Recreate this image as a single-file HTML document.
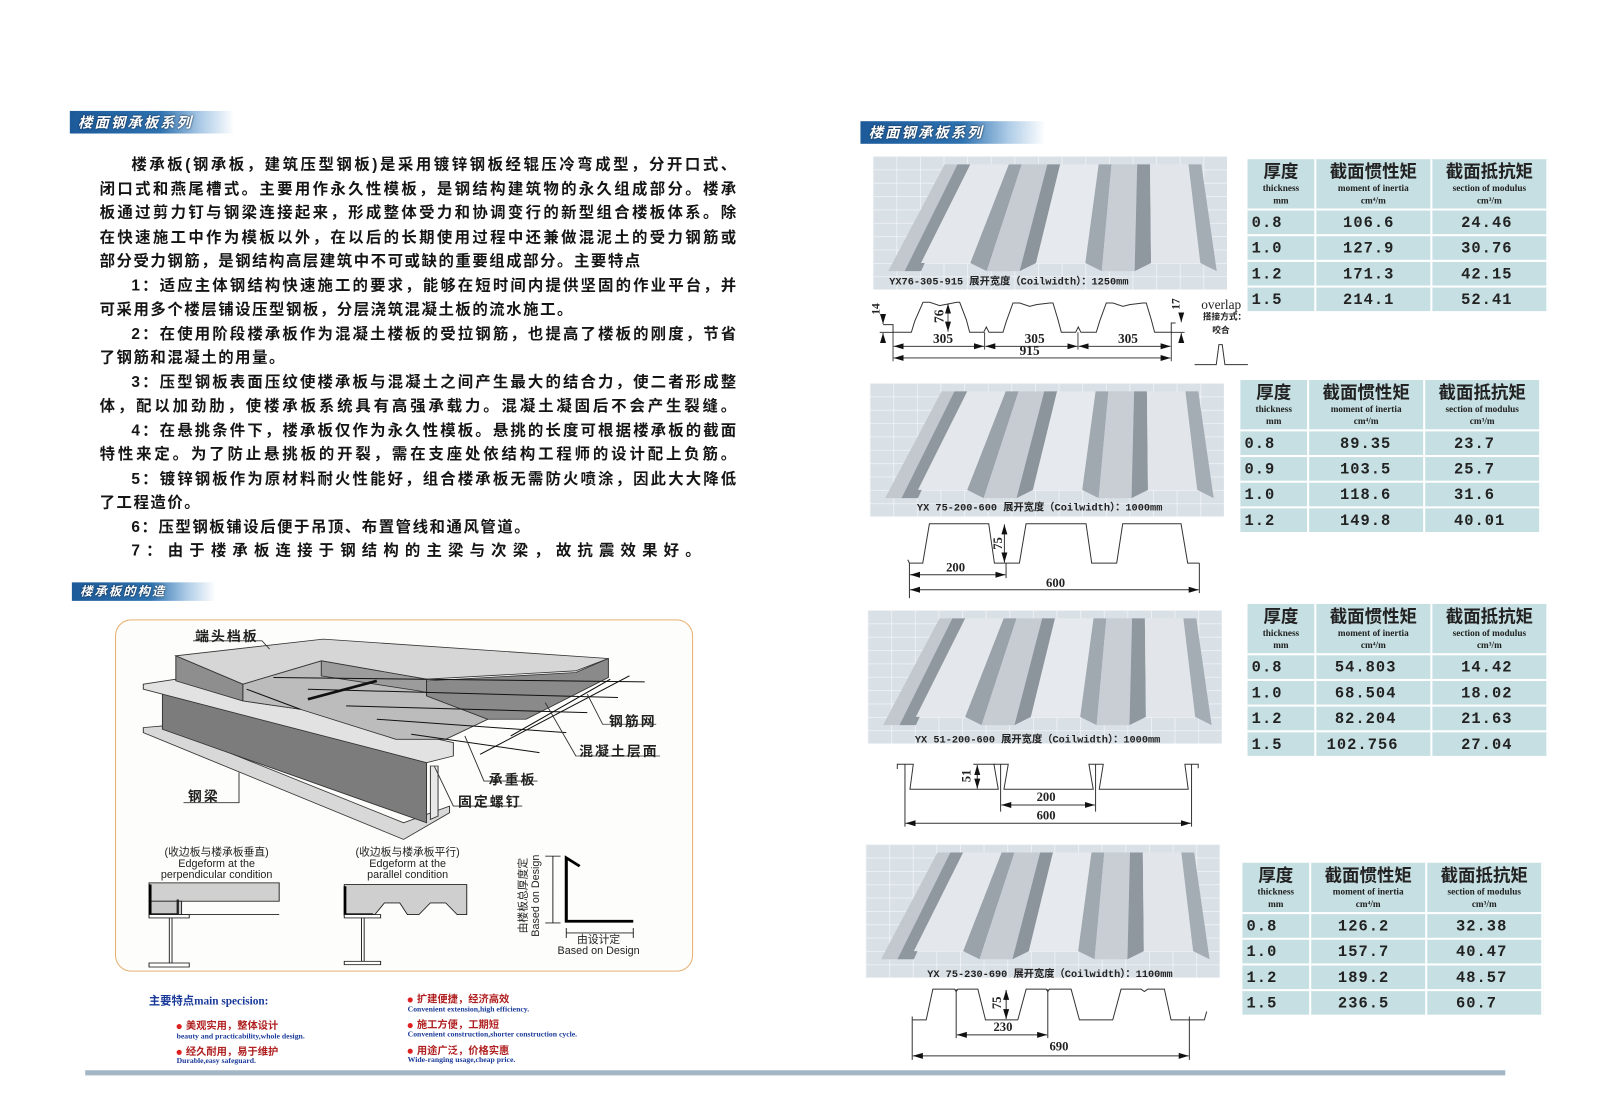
<!DOCTYPE html>
<html><head><meta charset="utf-8">
<style>
html,body{margin:0;padding:0;background:#fff;overflow:hidden;width:1610px;height:1099px}
#c{position:absolute;left:0;top:0;width:1568px;height:1070px;transform-origin:0 0;transform:scale(1.0268,1.0271);font-family:"Liberation Sans","Noto Sans CJK SC",sans-serif}
.a{position:absolute;white-space:nowrap}
.bar{position:absolute;height:22px;background:linear-gradient(90deg,#1c5a9a 0%,#2e72b0 55%,rgba(120,170,215,0.6) 80%,rgba(255,255,255,0) 100%);color:#fff;font-weight:bold;font-style:italic;font-size:14px;line-height:22px;padding-left:8px;letter-spacing:2px;box-sizing:border-box;text-shadow:0 0 2px #123}
.p{position:absolute;left:97px;width:620px;font-size:15px;font-weight:bold;color:#151515;line-height:23.5px;height:23.5px;white-space:nowrap;overflow:visible}
.ls{letter-spacing:1.5px}
.j{text-align:justify;text-align-last:justify;white-space:normal}
.in{padding-left:31px;box-sizing:border-box}
.tb{position:absolute;width:293px;height:148px;background:#c6dfe2}
.tb div{position:absolute;box-sizing:border-box}
.hd{top:0;height:50px;text-align:center;color:#222;border-right:2px solid #fff;border-bottom:2px solid #fff}
.hd b{display:block;font-size:17px;line-height:20px;margin-top:3px;font-family:"Liberation Sans","Noto Sans CJK SC",sans-serif}
.hd i{display:block;font-style:normal;font-size:9px;line-height:10px;font-family:"Liberation Serif",serif;font-weight:bold}
.hd s{display:block;text-decoration:none;font-size:9px;line-height:14px;font-family:"Liberation Serif",serif;font-weight:bold}
.c{height:25px;line-height:25px;font-family:"Liberation Mono",monospace;font-weight:bold;font-size:15px;color:#222;border-right:2px solid #fff;border-bottom:2px solid #fff;letter-spacing:1px}
.lb{position:absolute;font-size:13.5px;font-weight:bold;color:#222;white-space:nowrap;letter-spacing:2px}
.sm{position:absolute;font-size:10.5px;color:#222;white-space:nowrap;text-align:center;line-height:11px}
.cap{position:absolute;font-size:10px;font-weight:bold;color:#222;white-space:nowrap;font-family:"Liberation Mono","Noto Sans CJK SC",monospace}
.ph{position:absolute;width:345px;height:130px}
.f1{position:absolute;font-size:10px;font-weight:bold;color:#b02020;white-space:nowrap}
.f2{position:absolute;font-size:7.5px;font-weight:bold;color:#1a3a9a;white-space:nowrap;font-family:"Liberation Serif",serif}
.dot{display:inline-block;width:5px;height:5px;border-radius:50%;background:#e02020;margin-right:4px;vertical-align:middle}
</style></head><body><div id="c">

<div class="bar" style="left:68px;top:108px;width:160px">楼面钢承板系列</div>

<div class="p j in" style="top:149px">楼承板(钢承板，建筑压型钢板)是采用镀锌钢板经辊压冷弯成型，分开口式、</div>
<div class="p j" style="top:172.5px">闭口式和燕尾槽式。主要用作永久性模板，是钢结构建筑物的永久组成部分。楼承</div>
<div class="p j" style="top:196px">板通过剪力钉与钢梁连接起来，形成整体受力和协调变行的新型组合楼板体系。除</div>
<div class="p j" style="top:219.5px">在快速施工中作为模板以外，在以后的长期使用过程中还兼做混泥土的受力钢筋或</div>
<div class="p ls" style="top:243px">部分受力钢筋，是钢结构高层建筑中不可或缺的重要组成部分。主要特点</div>
<div class="p j in" style="top:266.5px">1：适应主体钢结构快速施工的要求，能够在短时间内提供坚固的作业平台，并</div>
<div class="p ls" style="top:290px">可采用多个楼层铺设压型钢板，分层浇筑混凝土板的流水施工。</div>
<div class="p j in" style="top:313.5px">2：在使用阶段楼承板作为混凝土楼板的受拉钢筋，也提高了楼板的刚度，节省</div>
<div class="p ls" style="top:337px">了钢筋和混凝土的用量。</div>
<div class="p j in" style="top:360.5px">3：压型钢板表面压纹使楼承板与混凝土之间产生最大的结合力，使二者形成整</div>
<div class="p j" style="top:384px">体，配以加劲肋，使楼承板系统具有高强承载力。混凝土凝固后不会产生裂缝。</div>
<div class="p j in" style="top:407.5px">4：在悬挑条件下，楼承板仅作为永久性模板。悬挑的长度可根据楼承板的截面</div>
<div class="p j" style="top:431px">特性来定。为了防止悬挑板的开裂，需在支座处依结构工程师的设计配上负筋。</div>
<div class="p j in" style="top:454.5px">5：镀锌钢板作为原材料耐火性能好，组合楼承板无需防火喷涂，因此大大降低</div>
<div class="p ls" style="top:478px">了工程造价。</div>
<div class="p in ls" style="top:501.5px">6：压型钢板铺设后便于吊顶、布置管线和通风管道。</div>
<div class="p in" style="top:525px;letter-spacing:6px">7：由于楼承板连接于钢结构的主梁与次梁，故抗震效果好。</div>

<div class="bar" style="left:70px;top:567px;width:140px;height:18px;line-height:18px;font-size:12px">楼承板的构造</div>

<div style="position:absolute;left:112px;top:603px;width:561px;height:341px;border:1.5px solid #e6b070;border-radius:16px;background:#fdfdfb"></div>
<svg style="position:absolute;left:106.4px;top:593.2px" width="578.6" height="357.6" viewBox="0 0 1552 1100" preserveAspectRatio="none">
<g stroke="#333" stroke-width="2.5">
<polygon points="90,355 140,350 770,640 890,590 890,610 770,690 90,370" fill="#d8d8d8"/>
<polygon points="140,245 830,460 830,640 140,360" fill="#7c7c7c"/>
<polygon points="840,470 860,470 860,620 840,630" fill="#e8e8e8"/>
<polygon points="90,225 175,210 350,275 500,300 900,400 900,440 830,460 90,240" fill="#e2e2e2"/>
<polygon points="350,225 555,155 830,215 830,260 990,330 880,390 750,390 500,300 350,275" fill="#bcbcbc"/>
<polygon points="175,140 560,90 1305,148 1220,185 830,210 555,155 350,225" fill="#d6d6d6"/>
<polygon points="175,140 350,225 350,275 175,215" fill="#8e8e8e"/>
<polygon points="555,155 830,210 830,250 810,245 555,200" fill="#9c9c9c"/>
<polygon points="830,215 1220,190 1305,148 1305,205 1090,330 990,330 830,260" fill="#8a8a8a"/>
</g>
<g stroke="#111" stroke-width="3">
<line x1="360" y1="240" x2="500" y2="300"/><line x1="430" y1="205" x2="1400" y2="218"/>
<line x1="520" y1="240" x2="1330" y2="265"/><line x1="620" y1="290" x2="1250" y2="310"/>
<line x1="700" y1="330" x2="1195" y2="370"/><line x1="790" y1="375" x2="1125" y2="430"/>
<line x1="970" y1="435" x2="1360" y2="200"/><line x1="1050" y1="380" x2="1310" y2="210"/>
<line x1="520" y1="270" x2="700" y2="215" stroke-width="8"/>
</g>
<g stroke="#333" stroke-width="2.5" fill="none">
<polyline points="220,95 400,95 420,120"/>
<polyline points="1430,345 1290,345 1250,255"/>
<polyline points="1440,440 1220,440 1140,280"/>
<polyline points="1120,515 980,515 930,380"/>
<polyline points="1080,590 900,590 850,470"/>
<polyline points="195,580 340,580 340,490"/>
</g>
<g stroke="#222" stroke-width="2.5">
<rect x="105" y="820" width="340" height="55" fill="#d0d0d0"/>
<rect x="105" y="875" width="85" height="40" fill="#c8c8c8"/>
<line x1="190" y1="915" x2="445" y2="915"/>
<polyline points="108,825 108,915 180,915" fill="none" stroke="#000" stroke-width="7"/>
<line x1="180" y1="870" x2="180" y2="915" stroke-width="6"/>
<rect x="105" y="915" width="105" height="10" fill="#fff"/>
<rect x="158" y="925" width="7" height="135" fill="#fff"/>
<rect x="105" y="1060" width="105" height="12" fill="#fff"/>
<polygon points="615,825 935,825 935,915 910,915 880,880 840,880 810,915 780,915 760,880 720,880 695,915 615,915" fill="#cfcfcf"/>
<polyline points="617,830 617,915 690,915" fill="none" stroke="#000" stroke-width="7"/>
<rect x="615" y="915" width="95" height="10" fill="#fff"/>
<rect x="660" y="925" width="7" height="130" fill="#fff"/>
<rect x="615" y="1055" width="95" height="10" fill="#fff"/>
<polyline points="1230,770 1195,745 1195,935 1370,935" fill="none" stroke="#000" stroke-width="8"/>
<line x1="1160" y1="740" x2="1160" y2="940"/><line x1="1140" y1="740" x2="1180" y2="740"/><line x1="1140" y1="940" x2="1180" y2="940"/>
<line x1="1195" y1="970" x2="1370" y2="970"/><line x1="1195" y1="955" x2="1195" y2="985"/><line x1="1370" y1="955" x2="1370" y2="985"/>
</g>
</svg>
<div class="lb" style="left:190px;top:608px">端头档板</div>
<div class="lb" style="left:593px;top:691px">钢筋网</div>
<div class="lb" style="left:564px;top:720px">混凝土层面</div>
<div class="lb" style="left:476px;top:748px">承重板</div>
<div class="lb" style="left:446px;top:769px">固定螺钉</div>
<div class="lb" style="left:183px;top:764px">钢梁</div>
<div class="sm" style="left:131px;top:825px;width:160px">(收边板与楼承板垂直)<br>Edgeform at the<br>perpendicular condition</div>
<div class="sm" style="left:317px;top:825px;width:160px">(收边板与楼承板平行)<br>Edgeform at the<br>parallel condition</div>
<div class="sm" style="left:466px;top:860px;width:100px;transform:rotate(-90deg);line-height:12px">由楼板总厚度定<br>Based on Design</div>
<div class="sm" style="left:533px;top:910px;width:100px">由设计定<br>Based on Design</div>

<div class="a" style="left:145px;top:966px;font-size:11px;font-weight:bold;color:#1a3a9a">主要特点<span style="font-family:'Liberation Serif',serif">main specision:</span></div>
<div class="f1" style="left:172px;top:990px"><span class="dot"></span>美观实用，整体设计</div>
<div class="f2" style="left:172px;top:1004px">beauty and practicability,whole design.</div>
<div class="f1" style="left:172px;top:1015px"><span class="dot"></span>经久耐用，易于维护</div>
<div class="f2" style="left:172px;top:1028px">Durable,easy safeguard.</div>
<div class="f1" style="left:397px;top:964px"><span class="dot"></span>扩建便捷，经济高效</div>
<div class="f2" style="left:397px;top:978px">Convenient extension,high efficiency.</div>
<div class="f1" style="left:397px;top:989px"><span class="dot"></span>施工方便，工期短</div>
<div class="f2" style="left:397px;top:1002px">Convenient construction,shorter construction cycle.</div>
<div class="f1" style="left:397px;top:1014px"><span class="dot"></span>用途广泛，价格实惠</div>
<div class="f2" style="left:397px;top:1027px">Wide-ranging usage,cheap price.</div>
<div class="a" style="left:83px;top:1042px;width:1383px;height:5px;background:#a3b6c6"></div>

<div class="bar" style="left:838px;top:118px;width:180px">楼面钢承板系列</div>

<svg width="0" height="0" style="position:absolute">
<defs>
<pattern id="gr" width="23" height="13" patternUnits="userSpaceOnUse"><rect width="23" height="13" fill="#d9e0e6"/><path d="M0 0H23M0 0V13" stroke="#f2f5f7" stroke-width="1.5"/></pattern>
<g id="deck">
<polygon points="70,8 82.5,8 31,112 15,112" fill="#c2c8ce"/>
<polygon points="82.5,8 95,8 47,112 31,112" fill="#8f979f"/>
<polygon points="95,8 132.5,8 95,104 47,104" fill="#e4e8ec"/>
<polygon points="132.5,8 145,8 111,112 95,104" fill="#9aa2aa"/>
<polygon points="145,8 170,8 143,112 111,112" fill="#c6ccd2"/>
<polygon points="170,8 182.5,8 159,104 143,112" fill="#8c949c"/>
<polygon points="182.5,8 220,8 207,104 159,104" fill="#e6eaee"/>
<polygon points="220,8 232.5,8 223,112 207,104" fill="#a0a8b0"/>
<polygon points="232.5,8 257.5,8 255,112 223,112" fill="#c8ced4"/>
<polygon points="257.5,8 270,8 271,104 255,112" fill="#8f979f"/>
<polygon points="270,8 307.5,8 319,104 271,104" fill="#e2e6ea"/>
<polygon points="307.5,8 320,8 335,112 319,104" fill="#a4acb4"/>
</g>
</defs></svg>

<svg class="ph" style="left:850px;top:152px" viewBox="0 0 345 130"><rect width="345" height="130" fill="url(#gr)"/><use href="#deck"/></svg>
<div class="cap" style="left:866px;top:265px">YX76-305-915 展开宽度（Coilwidth）：1250mm</div>
<svg class="ph" style="left:847px;top:373px" viewBox="0 0 345 130"><rect width="345" height="130" fill="url(#gr)"/><use href="#deck"/></svg>
<div class="cap" style="left:893px;top:485px">YX 75-200-600 展开宽度（Coilwidth）：1000mm</div>
<svg class="ph" style="left:845px;top:594px" viewBox="0 0 345 130"><rect width="345" height="130" fill="url(#gr)"/><use href="#deck"/></svg>
<div class="cap" style="left:891px;top:711px">YX 51-200-600 展开宽度（Coilwidth）：1000mm</div>
<svg class="ph" style="left:843px;top:822px" viewBox="0 0 345 130"><rect width="345" height="130" fill="url(#gr)"/><use href="#deck"/></svg>
<div class="cap" style="left:903px;top:939px">YX 75-230-690 展开宽度（Coilwidth）：1100mm</div>

<svg width="0" height="0" style="position:absolute"><defs>
<marker id="ar2" viewBox="0 0 10 10" refX="10" refY="5" markerWidth="30" markerHeight="30" markerUnits="userSpaceOnUse" orient="auto-start-reverse"><path d="M0 2L10 5L0 8z" fill="#111"/></marker>
</defs></svg>

<svg style="position:absolute;left:847.1px;top:282.4px" width="379.7" height="77.9" viewBox="0 0 1170 240" font-family="Liberation Serif,serif" font-weight="bold">
<g fill="none" stroke="#333" stroke-width="3">
<path d="M40,105 L70,105 L70,128 L125,128 L135,95 L160,38 L180,38 L210,48 L225,45 L262,38 L270,38 L290,90 L300,128 L342,128 L350,112 L358,128 L400,128 L410,95 L430,40 L450,40 L480,50 L500,45 L540,40 L550,40 L565,90 L575,128 L618,128 L626,112 L634,128 L680,128 L690,95 L710,40 L730,40 L760,50 L780,45 L820,40 L830,40 L845,90 L855,128 L905,128 L905,100 L918,100"/>
<path d="M975,225 L1040,225 L1048,165 L1058,165 L1066,225 L1135,225"/>
</g>
<g stroke="#222" stroke-width="2.5" fill="none">
<line x1="70" y1="128" x2="70" y2="215"/><line x1="345" y1="128" x2="345" y2="180"/><line x1="625" y1="128" x2="625" y2="180"/><line x1="905" y1="128" x2="905" y2="215"/>
<line x1="72" y1="170" x2="343" y2="170" marker-start="url(#ar2)" marker-end="url(#ar2)"/>
<line x1="347" y1="170" x2="623" y2="170" marker-start="url(#ar2)" marker-end="url(#ar2)"/>
<line x1="627" y1="170" x2="903" y2="170" marker-start="url(#ar2)" marker-end="url(#ar2)"/>
<line x1="72" y1="205" x2="903" y2="205" marker-start="url(#ar2)" marker-end="url(#ar2)"/>
<line x1="235" y1="42" x2="235" y2="126" marker-start="url(#ar2)" marker-end="url(#ar2)"/>
<line x1="40" y1="75" x2="40" y2="103" marker-end="url(#ar2)"/><line x1="40" y1="160" x2="40" y2="130" marker-end="url(#ar2)"/><line x1="30" y1="128" x2="70" y2="128"/>
<line x1="935" y1="70" x2="935" y2="98" marker-end="url(#ar2)"/><line x1="935" y1="155" x2="935" y2="130" marker-end="url(#ar2)"/><line x1="905" y1="128" x2="945" y2="128"/>
</g>
<g font-size="40" fill="#222">
<text x="190" y="160">305</text><text x="465" y="160">305</text><text x="745" y="160">305</text><text x="450" y="196">915</text>
<text transform="translate(30,75) rotate(-90)" font-size="34">14</text>
<text transform="translate(222,100) rotate(-90)">76</text>
<text transform="translate(930,60) rotate(-90)" font-size="34">17</text>
<text x="995" y="58" font-weight="normal" font-size="40">overlap</text>
</g>
<g font-family="Liberation Sans,Noto Sans CJK SC,sans-serif" font-size="26" fill="#222"><text x="1000" y="90">搭接方式：</text><text x="1028" y="130">咬合</text></g>
</svg>

<svg style="position:absolute;left:837.4px;top:360.3px" width="370" height="233.7" viewBox="0 0 1140 720" font-family="Liberation Serif,serif" font-weight="bold">
<g fill="none" stroke="#333" stroke-width="3">
<path d="M145,570 L150,580 L190,580 L210,462 L388,462 L405,580 L480,580 L500,462 L680,462 L697,580 L772,580 L790,462 L965,462 L985,580 L1020,580"/>
<line x1="150" y1="580" x2="150" y2="685"/><line x1="440" y1="580" x2="440" y2="625"/><line x1="1020" y1="580" x2="1020" y2="670"/>
<line x1="152" y1="615" x2="438" y2="615" marker-start="url(#ar2)" marker-end="url(#ar2)"/>
<line x1="152" y1="660" x2="1018" y2="660" marker-start="url(#ar2)" marker-end="url(#ar2)"/>
<line x1="435" y1="464" x2="435" y2="578" marker-start="url(#ar2)" marker-end="url(#ar2)"/>
</g>
<g font-size="38" fill="#222"><text x="260" y="605">200</text><text x="560" y="652">600</text><text transform="translate(428,540) rotate(-90)">75</text></g>
</svg>

<svg style="position:absolute;left:856.9px;top:735.2px" width="321.3" height="82.8" viewBox="0 0 990 255" font-family="Liberation Serif,serif" font-weight="bold">
<g fill="none" stroke="#333" stroke-width="3">
<path d="M52,42 L52,28 L100,28 L90,103 L355,103 L342,28 L385,28 L372,103 L640,103 L627,28 L670,28 L658,103 L925,103 L915,28 L955,28 L955,40"/>
<line x1="362" y1="28" x2="362" y2="170"/><line x1="647" y1="28" x2="647" y2="170"/><line x1="75" y1="28" x2="75" y2="215"/><line x1="935" y1="28" x2="935" y2="215"/>
<line x1="280" y1="28" x2="345" y2="28"/>
<line x1="364" y1="150" x2="645" y2="150" marker-start="url(#ar2)" marker-end="url(#ar2)"/>
<line x1="77" y1="205" x2="933" y2="205" marker-start="url(#ar2)" marker-end="url(#ar2)"/>
<line x1="292" y1="30" x2="292" y2="101" marker-start="url(#ar2)" marker-end="url(#ar2)"/>
</g>
<g font-size="38" fill="#222"><text x="470" y="138">200</text><text x="470" y="193">600</text><text transform="translate(272,82) rotate(-90)">51</text></g>
</svg>

<svg style="position:absolute;left:876.3px;top:954.2px" width="311.6" height="87.6" viewBox="0 0 960 270" font-family="Liberation Serif,serif" font-weight="bold">
<g fill="none" stroke="#333" stroke-width="3">
<path d="M38,120 L80,120 L100,28 L165,28 L170,35 L175,28 L235,28 L258,120 L355,120 L380,28 L440,28 L445,35 L450,28 L515,28 L540,120 L640,120 L665,28 L725,28 L735,35 L745,28 L795,28 L815,120 L915,120 L922,95"/>
<line x1="38" y1="110" x2="38" y2="240"/><line x1="170" y1="28" x2="170" y2="175"/><line x1="445" y1="28" x2="445" y2="175"/><line x1="870" y1="110" x2="870" y2="240"/>
<line x1="172" y1="165" x2="443" y2="165" marker-start="url(#ar2)" marker-end="url(#ar2)"/>
<line x1="40" y1="228" x2="868" y2="228" marker-start="url(#ar2)" marker-end="url(#ar2)"/>
<line x1="320" y1="30" x2="320" y2="118" marker-start="url(#ar2)" marker-end="url(#ar2)"/>
</g>
<g font-size="38" fill="#222"><text x="282" y="153">230</text><text x="450" y="212">690</text><text transform="translate(305,88) rotate(-90)">75</text></g>
</svg>

<div class="tb" style="left:1215px;top:155px">
<div class="hd" style="left:0;width:67px"><b>厚度</b><i>thickness</i><s>mm</s></div>
<div class="hd" style="left:67px;width:113px"><b>截面惯性矩</b><i>moment of inertia</i><s>cm⁴/m</s></div>
<div class="hd" style="left:180px;width:113px"><b>截面抵抗矩</b><i>section of modulus</i><s>cm³/m</s></div>
<div class="c" style="left:0;top:50px;width:67px;padding-left:4px">0.8</div><div class="c" style="left:67px;top:50px;width:113px;padding-left:26px">106.6</div><div class="c" style="left:180px;top:50px;width:113px;padding-left:28px">24.46</div>
<div class="c" style="left:0;top:75px;width:67px;padding-left:4px">1.0</div><div class="c" style="left:67px;top:75px;width:113px;padding-left:26px">127.9</div><div class="c" style="left:180px;top:75px;width:113px;padding-left:28px">30.76</div>
<div class="c" style="left:0;top:100px;width:67px;padding-left:4px">1.2</div><div class="c" style="left:67px;top:100px;width:113px;padding-left:26px">171.3</div><div class="c" style="left:180px;top:100px;width:113px;padding-left:28px">42.15</div>
<div class="c" style="left:0;top:125px;width:67px;padding-left:4px">1.5</div><div class="c" style="left:67px;top:125px;width:113px;padding-left:26px">214.1</div><div class="c" style="left:180px;top:125px;width:113px;padding-left:28px">52.41</div>
</div>

<div class="tb" style="left:1208px;top:370px">
<div class="hd" style="left:0;width:67px"><b>厚度</b><i>thickness</i><s>mm</s></div>
<div class="hd" style="left:67px;width:113px"><b>截面惯性矩</b><i>moment of inertia</i><s>cm⁴/m</s></div>
<div class="hd" style="left:180px;width:113px"><b>截面抵抗矩</b><i>section of modulus</i><s>cm³/m</s></div>
<div class="c" style="left:0;top:50px;width:67px;padding-left:4px">0.8</div><div class="c" style="left:67px;top:50px;width:113px;padding-left:30px">89.35</div><div class="c" style="left:180px;top:50px;width:113px;padding-left:28px">23.7</div>
<div class="c" style="left:0;top:75px;width:67px;padding-left:4px">0.9</div><div class="c" style="left:67px;top:75px;width:113px;padding-left:30px">103.5</div><div class="c" style="left:180px;top:75px;width:113px;padding-left:28px">25.7</div>
<div class="c" style="left:0;top:100px;width:67px;padding-left:4px">1.0</div><div class="c" style="left:67px;top:100px;width:113px;padding-left:30px">118.6</div><div class="c" style="left:180px;top:100px;width:113px;padding-left:28px">31.6</div>
<div class="c" style="left:0;top:125px;width:67px;padding-left:4px">1.2</div><div class="c" style="left:67px;top:125px;width:113px;padding-left:30px">149.8</div><div class="c" style="left:180px;top:125px;width:113px;padding-left:28px">40.01</div>
</div>

<div class="tb" style="left:1215px;top:588px">
<div class="hd" style="left:0;width:67px"><b>厚度</b><i>thickness</i><s>mm</s></div>
<div class="hd" style="left:67px;width:113px"><b>截面惯性矩</b><i>moment of inertia</i><s>cm⁴/m</s></div>
<div class="hd" style="left:180px;width:113px"><b>截面抵抗矩</b><i>section of modulus</i><s>cm³/m</s></div>
<div class="c" style="left:0;top:50px;width:67px;padding-left:4px">0.8</div><div class="c" style="left:67px;top:50px;width:113px;padding-left:18px">54.803</div><div class="c" style="left:180px;top:50px;width:113px;padding-left:28px">14.42</div>
<div class="c" style="left:0;top:75px;width:67px;padding-left:4px">1.0</div><div class="c" style="left:67px;top:75px;width:113px;padding-left:18px">68.504</div><div class="c" style="left:180px;top:75px;width:113px;padding-left:28px">18.02</div>
<div class="c" style="left:0;top:100px;width:67px;padding-left:4px">1.2</div><div class="c" style="left:67px;top:100px;width:113px;padding-left:18px">82.204</div><div class="c" style="left:180px;top:100px;width:113px;padding-left:28px">21.63</div>
<div class="c" style="left:0;top:125px;width:67px;padding-left:4px">1.5</div><div class="c" style="left:67px;top:125px;width:113px;padding-left:10px">102.756</div><div class="c" style="left:180px;top:125px;width:113px;padding-left:28px">27.04</div>
</div>

<div class="tb" style="left:1210px;top:840px">
<div class="hd" style="left:0;width:67px"><b>厚度</b><i>thickness</i><s>mm</s></div>
<div class="hd" style="left:67px;width:113px"><b>截面惯性矩</b><i>moment of inertia</i><s>cm⁴/m</s></div>
<div class="hd" style="left:180px;width:113px"><b>截面抵抗矩</b><i>section of modulus</i><s>cm³/m</s></div>
<div class="c" style="left:0;top:50px;width:67px;padding-left:4px">0.8</div><div class="c" style="left:67px;top:50px;width:113px;padding-left:26px">126.2</div><div class="c" style="left:180px;top:50px;width:113px;padding-left:28px">32.38</div>
<div class="c" style="left:0;top:75px;width:67px;padding-left:4px">1.0</div><div class="c" style="left:67px;top:75px;width:113px;padding-left:26px">157.7</div><div class="c" style="left:180px;top:75px;width:113px;padding-left:28px">40.47</div>
<div class="c" style="left:0;top:100px;width:67px;padding-left:4px">1.2</div><div class="c" style="left:67px;top:100px;width:113px;padding-left:26px">189.2</div><div class="c" style="left:180px;top:100px;width:113px;padding-left:28px">48.57</div>
<div class="c" style="left:0;top:125px;width:67px;padding-left:4px">1.5</div><div class="c" style="left:67px;top:125px;width:113px;padding-left:26px">236.5</div><div class="c" style="left:180px;top:125px;width:113px;padding-left:28px">60.7</div>
</div>

</div></body></html>
